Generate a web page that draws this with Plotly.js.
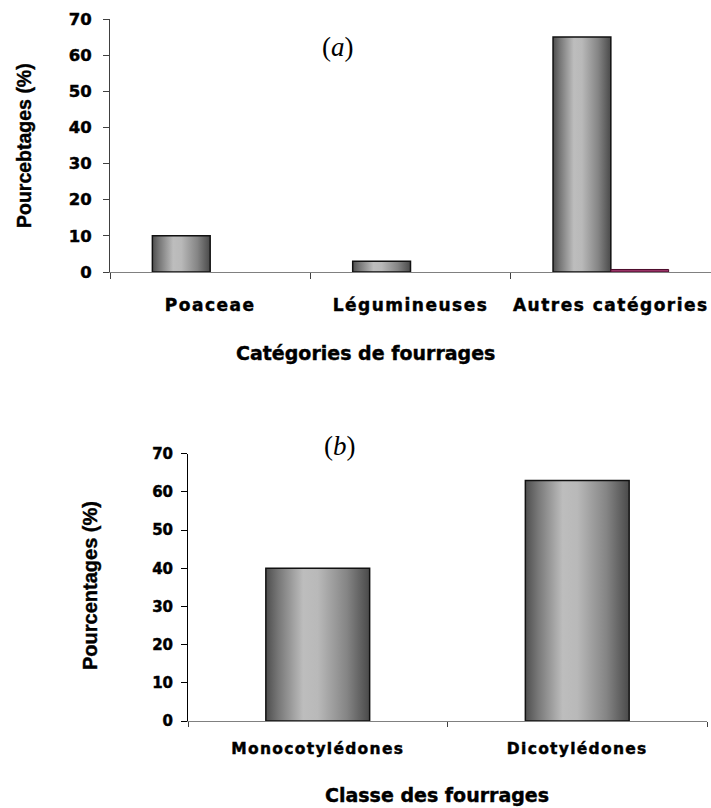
<!DOCTYPE html>
<html>
<head>
<meta charset="utf-8">
<script src="https://cdn.plot.ly/plotly-3.0.1.min.js"></script>
<style>
  html, body { margin: 0; padding: 0; background: #fff; }
  #chart { width: 711px; height: 808px; }
</style>
</head>
<body>
<div id="chart"></div>
<script>
// ---- Data (a) ----
const catsA = ["Poaceae", "Légumineuses", "Autres catégories"];
const seriesA1 = [10, 3, 65];
const seriesA2 = [null, null, 0.7];

// ---- Data (b) ----
const catsB = ["Monocotylédones", "Dicotylédones"];
const seriesB = [40, 63];

// ---- Text ----
const yTitleA = "Pourcebtages (%)";
const xTitleA = "Catégories de fourrages";
const yTitleB = "Pourcentages (%)";
const xTitleB = "Classe des fourrages";
const yTicksVals = [0, 10, 20, 30, 40, 50, 60, 70];

const W = 711, H = 808;
const px = v => v / W;
const py = v => 1 - v / H;

const GREY = "#999999";

const traces = [
  { type: "bar", x: catsA, y: seriesA1, xaxis: "x", yaxis: "y",
    marker: { color: GREY, line: { color: "#111", width: 1.5 } }, hoverinfo: "x+y" },
  { type: "bar", x: catsA, y: seriesA2, xaxis: "x", yaxis: "y",
    marker: { color: "#993366", line: { color: "#4a0a2a", width: 1 } }, hoverinfo: "x+y" },
  { type: "bar", x: catsB, y: seriesB, xaxis: "x2", yaxis: "y2", width: 0.4,
    marker: { color: GREY, line: { color: "#111", width: 1.5 } }, hoverinfo: "x+y" }
];

const tickFontY = (s) => ({ family: "DejaVu Sans", size: s, weight: 700, color: "#000" });

const layout = {
  width: W, height: H,
  margin: { l: 0, r: 0, t: 0, b: 0 },
  paper_bgcolor: "#fff", plot_bgcolor: "rgba(0,0,0,0)",
  showlegend: false,
  barmode: "group",
  bargap: 0.423, bargroupgap: 0,
  xaxis: {
    domain: [px(110), 1], anchor: "y", type: "category",
    showline: true, linecolor: "#808080", linewidth: 1,
    ticks: "outside", tickson: "boundaries", ticklen: 6, tickcolor: "#404040",
    tickfont: { family: "DejaVu Sans", size: 17, weight: 700, color: "#000" },
    ticklabelstandoff: 18,
    showgrid: false, zeroline: false, fixedrange: true
  },
  yaxis: {
    domain: [py(272), py(19)], anchor: "x", range: [0, 70],
    tickvals: yTicksVals, ticktext: yTicksVals.map(String),
    showline: true, linecolor: "#404040", linewidth: 1,
    ticks: "outside", ticklen: 6, tickcolor: "#404040",
    tickfont: tickFontY(16.5), ticklabelstandoff: 8,
    showgrid: false, zeroline: false, fixedrange: true
  },
  xaxis2: {
    domain: [px(188), px(707)], anchor: "y2", type: "category",
    showline: true, linecolor: "#808080", linewidth: 1,
    ticks: "outside", tickson: "boundaries", ticklen: 5, tickcolor: "#404040",
    tickfont: { family: "DejaVu Sans", size: 15.5, weight: 700, color: "#000" },
    ticklabelstandoff: 13,
    showgrid: false, zeroline: false, fixedrange: true
  },
  yaxis2: {
    domain: [py(721), py(453.7)], anchor: "x2", range: [0, 70],
    tickvals: yTicksVals, ticktext: yTicksVals.map(String),
    showline: true, linecolor: "#000", linewidth: 1,
    ticks: "outside", ticklen: 6, tickcolor: "#000",
    tickfont: tickFontY(15), ticklabelstandoff: 5,
    showgrid: false, zeroline: false, fixedrange: true
  },
  annotations: [
    { text: "(<i>a</i>)", xref: "paper", yref: "paper", x: px(338), y: py(47),
      showarrow: false, xanchor: "center", yanchor: "middle",
      font: { family: "Liberation Serif", size: 27, color: "#000" } },
    { text: "(<i>b</i>)", xref: "paper", yref: "paper", x: px(340), y: py(446),
      showarrow: false, xanchor: "center", yanchor: "middle",
      font: { family: "Liberation Serif", size: 27, color: "#000" } },
    { text: xTitleA, xref: "paper", yref: "paper", x: px(365.5), y: py(353),
      showarrow: false, xanchor: "center", yanchor: "middle",
      font: { family: "DejaVu Sans", size: 19, weight: 700, color: "#000" } },
    { text: xTitleB, xref: "paper", yref: "paper", x: px(436.5), y: py(795),
      showarrow: false, xanchor: "center", yanchor: "middle",
      font: { family: "DejaVu Sans", size: 19, weight: 700, color: "#000" } },
    { text: yTitleA, xref: "paper", yref: "paper", x: px(24), y: py(146), textangle: -90,
      showarrow: false, xanchor: "center", yanchor: "middle",
      font: { family: "Liberation Sans", size: 19.5, weight: 700, color: "#000" } },
    { text: yTitleB, xref: "paper", yref: "paper", x: px(90), y: py(586), textangle: -90,
      showarrow: false, xanchor: "center", yanchor: "middle",
      font: { family: "Liberation Sans", size: 20, weight: 700, color: "#000" } }
  ]
};

Plotly.newPlot("chart", traces, layout, { displayModeBar: false, staticPlot: true }).then(gd => {
  const svg = gd.querySelector(".main-svg");
  let defs = svg.querySelector("defs");
  const NS = "http://www.w3.org/2000/svg";
  if (!defs) { defs = document.createElementNS(NS, "defs"); svg.insertBefore(defs, svg.firstChild); }
  const grad = document.createElementNS(NS, "linearGradient");
  grad.setAttribute("id", "barGrad");
  grad.setAttribute("x1", "0"); grad.setAttribute("y1", "0");
  grad.setAttribute("x2", "1"); grad.setAttribute("y2", "0");
  [[0, "#4e4e4e"], [0.12, "#777777"], [0.36, "#bdbdbd"], [0.5, "#b9b9b9"], [0.78, "#858585"], [1, "#4a4a4a"]]
    .forEach(([o, c]) => {
      const s = document.createElementNS(NS, "stop");
      s.setAttribute("offset", o); s.setAttribute("stop-color", c);
      grad.appendChild(s);
    });
  defs.appendChild(grad);
  gd.querySelectorAll("g.trace.bars .point path").forEach(p => {
    const f = (p.style.fill || "").replace(/\s/g, "");
    if (f === "rgb(153,153,153)") p.style.fill = "url(#barGrad)";
  });
  // letter spacing + slightly heavier strokes on sans-serif texts
  gd.querySelectorAll(".xtick text").forEach(t => { t.style.letterSpacing = "1.5px"; });
  gd.querySelectorAll(".x2tick text").forEach(t => { t.style.letterSpacing = "1.3px"; });
  gd.querySelectorAll(".xtick text, .x2tick text, .ytick text, .y2tick text").forEach(t => {
    t.style.stroke = "#000"; t.style.strokeWidth = "0.45px";
  });
  gd.querySelectorAll(".annotation-text").forEach((t, i) => {
    if (i >= 2) { t.style.stroke = "#000"; t.style.strokeWidth = "0.4px"; }
  });
});
</script>
</body>
</html>
